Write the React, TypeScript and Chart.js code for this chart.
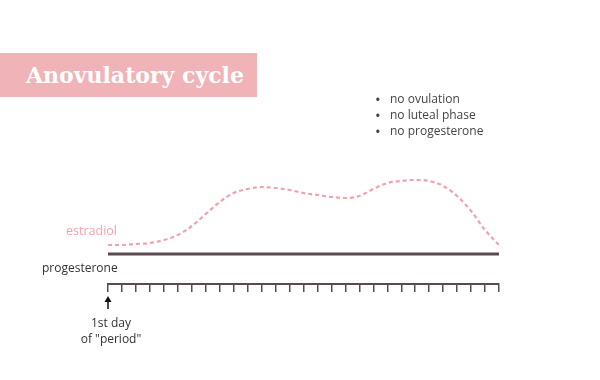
import React, { useEffect, useRef } from "react";
import { Chart, registerables } from "chart.js";

Chart.register(...registerables);

const days = [0, 1, 2, 3, 4, 5, 6, 7, 8, 9, 10, 11, 12, 13, 14, 15, 16, 17, 18, 19, 20, 21, 22, 23, 24, 25, 26, 27, 28];
const estradiol = [9, 9, 10, 11, 14, 19, 28, 40, 52, 61, 65, 67, 66, 64, 61, 59, 57, 56, 58, 65, 71, 73, 74, 73, 68, 58, 43, 24, 9];
const progesterone = [0, 0, 0, 0, 0, 0, 0, 0, 0, 0, 0, 0, 0, 0, 0, 0, 0, 0, 0, 0, 0, 0, 0, 0, 0, 0, 0, 0, 0];
const title = "Anovulatory cycle";
const notes = ["no ovulation", "no luteal phase", "no progesterone"];

const PINK = "#f0a3ac";
const DARK = "#5b4b50";

export default function App() {
  const ref = useRef<HTMLCanvasElement | null>(null);
  useEffect(() => {
    if (!ref.current) return;
    const arrowPlugin = {
      id: "arrow",
      afterDraw(chart: any) {
        const ctx = chart.ctx;
        const x = chart.scales.x.getPixelForValue(0);
        ctx.save();
        ctx.strokeStyle = "#111";
        ctx.fillStyle = "#111";
        ctx.lineWidth = 1.5;
        ctx.beginPath();
        ctx.moveTo(x, 309);
        ctx.lineTo(x, 300);
        ctx.stroke();
        ctx.beginPath();
        ctx.moveTo(x, 296);
        ctx.lineTo(x - 3.5, 302);
        ctx.lineTo(x + 3.5, 302);
        ctx.closePath();
        ctx.fill();
        ctx.restore();
      },
    };
    const chart = new Chart(ref.current, {
      type: "line",
      data: {
        datasets: [
          {
            label: "estradiol",
            data: days.map((d, i) => ({ x: d, y: estradiol[i] })),
            borderColor: PINK,
            borderWidth: 2.2,
            borderDash: [4, 3],
            pointRadius: 0,
            tension: 0.4,
            cubicInterpolationMode: "monotone",
            fill: false,
          },
          {
            label: "progesterone",
            data: days.map((d, i) => ({ x: d, y: progesterone[i] })),
            borderColor: DARK,
            borderWidth: 3,
            pointRadius: 0,
            fill: false,
          },
        ],
      },
      options: {
        animation: false,
        responsive: false,
        layout: { padding: { left: 108, right: 101, top: 150, bottom: 88 } },
        plugins: { legend: { display: false }, tooltip: { enabled: false } },
        scales: {
          x: {
            type: "linear",
            min: 0,
            max: 28,
            ticks: { display: false, stepSize: 1 },
            grid: { drawOnChartArea: false, drawTicks: true, tickLength: 8, color: DARK, lineWidth: 1.5 },
            border: { display: true, color: DARK, width: 2 },
          },
          y: {
            display: false,
            min: -30,
            max: 104,
          },
        },
      },
      plugins: [arrowPlugin],
    } as any);
    return () => chart.destroy();
  }, []);

  const sans = "'Open Sans', 'Noto Sans', sans-serif";
  return (
    <div style={{ position: "fixed", left: 0, top: 0, width: 600, height: 380, background: "#fff" }}>
      <canvas ref={ref} width={600} height={380} style={{ position: "absolute", left: 0, top: 0 }} />
      <div
        style={{
          position: "absolute",
          left: 0,
          top: 53,
          width: 257,
          height: 44,
          background: "#efb3b8",
          color: "#fff",
          fontFamily: "'DejaVu Serif', serif",
          fontWeight: "bold",
          fontSize: 22,
          lineHeight: "44px",
          paddingLeft: 26,
          boxSizing: "border-box",
          whiteSpace: "nowrap",
        }}
      >
        {title}
      </div>
      <div style={{ position: "absolute", left: 375, top: 91, fontFamily: sans, fontSize: 12, color: "#444", lineHeight: "16px" }}>
        {notes.map((n) => (
          <div key={n} style={{ whiteSpace: "nowrap" }}>
            <span style={{ display: "inline-block", width: 15, fontSize: 15, lineHeight: "16px", verticalAlign: "top" }}>•</span>
            {n}
          </div>
        ))}
      </div>
      <div style={{ position: "absolute", left: 66, top: 222, fontFamily: sans, fontSize: 12.5, color: PINK, whiteSpace: "nowrap" }}>
        estradiol
      </div>
      <div style={{ position: "absolute", left: 42, top: 259, fontFamily: sans, fontSize: 12, color: "#333", whiteSpace: "nowrap" }}>
        progesterone
      </div>
      <div
        style={{
          position: "absolute",
          left: 51,
          width: 120,
          top: 315,
          textAlign: "center",
          fontFamily: sans,
          fontSize: 12,
          color: "#333",
          lineHeight: "16px",
        }}
      >
        <div>1st day</div>
        <div>of "period"</div>
      </div>
    </div>
  );
}
